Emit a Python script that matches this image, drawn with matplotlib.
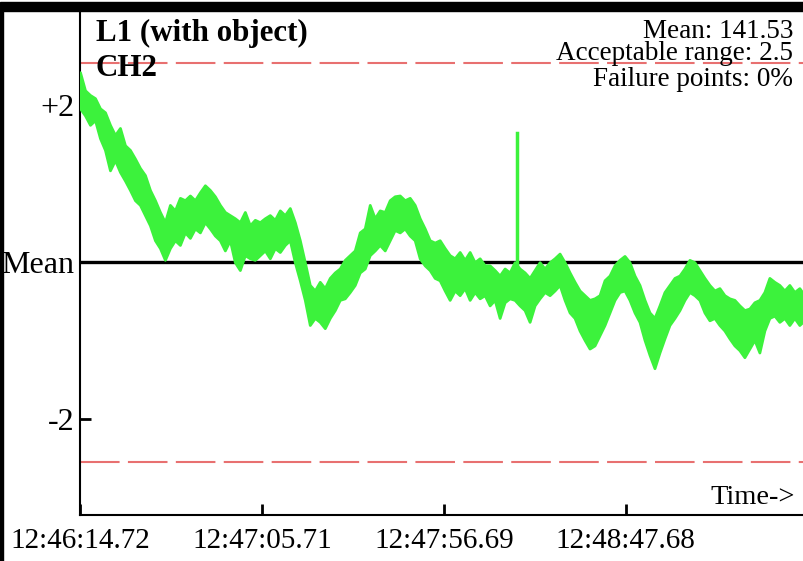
import matplotlib
matplotlib.use('Agg')
import matplotlib.pyplot as plt
from matplotlib.patches import Rectangle

# ============================================================
# DATA
# ============================================================
# seconds since 12:46:14.72, one sample every ~1.4 s
t = [0.0, 1.4, 2.8, 4.2, 5.6, 7.0, 8.4, 9.8, 11.2, 12.6,
     14.0, 15.4, 16.8, 18.2, 19.6, 21.0, 22.4, 23.8, 25.2, 26.6,
     28.0, 29.4, 30.8, 32.2, 33.6, 35.0, 36.4, 37.8, 39.2, 40.6,
     42.0, 43.4, 44.8, 46.2, 47.6, 49.0, 50.4, 51.8, 53.2, 54.6,
     56.0, 57.4, 58.8, 60.2, 61.6, 63.0, 64.4, 65.8, 67.2, 68.6,
     70.0, 71.4, 72.8, 74.2, 75.6, 77.0, 78.4, 79.8, 81.2, 82.6,
     84.0, 85.4, 86.8, 88.2, 89.6, 91.0, 92.4, 93.8, 95.2, 96.6,
     98.0, 99.4, 100.8, 102.2, 103.6, 105.0, 106.4, 107.8, 109.2, 110.6,
     112.0, 113.4, 114.8, 116.2, 117.6, 119.0, 120.4, 121.8, 123.2, 124.6,
     126.0, 127.4, 128.8, 130.2, 131.6, 133.0, 134.4, 135.8, 137.2, 138.6,
     140.0, 141.4, 142.8, 144.2, 145.6, 147.0, 148.4, 149.8, 151.2, 152.6,
     154.0, 155.4, 156.8, 158.2, 159.6, 161.0, 162.4, 163.8, 165.2, 166.6,
     168.0, 169.4, 170.8, 172.2, 173.6, 175.0, 176.4, 177.8, 179.2, 180.6,
     182.0, 183.4, 184.8, 186.2, 187.6, 189.0, 190.4, 191.8, 193.2, 194.6,
     196.0, 197.4, 198.8, 200.2, 201.6, 203.0]

# upper / lower edge of the noisy CH2 trace (deviation from mean)
upper = [2.42, 2.19, 2.13, 2.09, 1.96, 1.91, 1.75, 1.62, 1.71, 1.49,
         1.43, 1.32, 1.20, 1.11, 0.92, 0.79, 0.64, 0.51, 0.73, 0.66,
         0.82, 0.79, 0.85, 0.79, 0.89, 0.98, 0.92, 0.84, 0.73, 0.64,
         0.60, 0.56, 0.51, 0.64, 0.47, 0.54, 0.51, 0.56, 0.60, 0.54,
         0.66, 0.60, 0.69, 0.51, 0.28, 0.00, -0.29, -0.36, -0.25, -0.33,
         -0.20, -0.13, -0.08, 0.03, 0.09, 0.15, 0.38, 0.43, 0.73, 0.56,
         0.66, 0.64, 0.79, 0.84, 0.85, 0.79, 0.82, 0.73, 0.56, 0.43,
         0.28, 0.25, 0.28, 0.18, 0.09, 0.05, 0.13, 0.03, 0.13, 0.00,
         0.05, -0.04, -0.04, -0.10, -0.17, -0.08, -0.13, 0.00, -0.08, -0.13,
         -0.20, -0.10, 0.00, -0.08, 0.00, 0.05, 0.11, 0.00, -0.13, -0.25,
         -0.36, -0.42, -0.48, -0.46, -0.42, -0.23, -0.17, -0.04, 0.03, 0.08,
         0.00, -0.17, -0.29, -0.48, -0.64, -0.71, -0.55, -0.38, -0.29, -0.20,
         -0.17, -0.08, 0.03, 0.00, -0.10, -0.20, -0.29, -0.36, -0.33, -0.42,
         -0.46, -0.48, -0.55, -0.61, -0.59, -0.51, -0.48, -0.38, -0.20, -0.25,
         -0.29, -0.36, -0.29, -0.38, -0.33, -0.42]
lower = [1.96, 1.87, 1.75, 1.81, 1.58, 1.43, 1.17, 1.30, 1.15, 1.04,
         0.92, 0.79, 0.73, 0.60, 0.47, 0.28, 0.18, 0.03, 0.18, 0.28,
         0.22, 0.38, 0.31, 0.43, 0.38, 0.51, 0.43, 0.34, 0.28, 0.15,
         0.28, 0.00, -0.10, 0.09, 0.05, 0.03, 0.09, 0.15, 0.05, 0.18,
         0.13, 0.22, 0.28, 0.00, -0.23, -0.48, -0.80, -0.71, -0.76, -0.84,
         -0.71, -0.61, -0.48, -0.46, -0.38, -0.29, -0.13, -0.08, 0.09, 0.15,
         0.22, 0.15, 0.28, 0.41, 0.38, 0.43, 0.34, 0.28, 0.05, -0.04,
         -0.10, -0.20, -0.23, -0.36, -0.48, -0.36, -0.42, -0.33, -0.48, -0.38,
         -0.46, -0.42, -0.55, -0.48, -0.71, -0.51, -0.46, -0.48, -0.55, -0.61,
         -0.76, -0.55, -0.46, -0.38, -0.42, -0.36, -0.29, -0.48, -0.64, -0.71,
         -0.87, -0.99, -1.10, -1.06, -0.93, -0.80, -0.64, -0.48, -0.38, -0.36,
         -0.48, -0.64, -0.76, -0.99, -1.18, -1.35, -1.15, -0.97, -0.80, -0.71,
         -0.61, -0.48, -0.38, -0.42, -0.48, -0.64, -0.74, -0.71, -0.80, -0.87,
         -0.97, -1.06, -1.12, -1.21, -1.10, -0.99, -1.15, -0.87, -0.71, -0.68,
         -0.76, -0.71, -0.80, -0.71, -0.80, -0.74]

# single spike
spike_t = 122.4
spike_base = -0.10
spike_top = 1.64

LIMIT = 2.54          # dashed acceptable-range lines
T_END = 202.9
tick_pos = [0.0, 50.99, 101.97, 152.96]
tick_labels = ['12:46:14.72', '12:47:05.71', '12:47:56.69', '12:48:47.68']
ytick_pos = [2, 0, -2]
ytick_labels = ['+2', 'Mean', '-2']
info_lines = ['Mean: 141.53', 'Acceptable range: 2.5', 'Failure points: 0%']

GREEN = '#3cf23c'
RED = '#e87070'
SERIF = 'Liberation Serif'

# ============================================================
# FIGURE
# ============================================================
fig = plt.figure(figsize=(8.04, 5.61), dpi=100)
ax = fig.add_axes([80 / 804, 1 - 515 / 561, 724 / 804, 504 / 561])

ax.fill_between(t, lower, upper, color=GREEN, linewidth=2, edgecolor=GREEN, zorder=3)
ax.plot([spike_t, spike_t], [spike_base, spike_top], color=GREEN, lw=2.5, zorder=3)

ax.axhline(0, color='black', lw=2.4, zorder=2)
for lv in (LIMIT, -LIMIT):
    ax.axhline(lv, color=RED, lw=1.5, dashes=(19, 4), zorder=2)

ax.set_xlim(0, T_END)
ax.set_ylim(-3.22, 3.20)

for s in ('top', 'right'):
    ax.spines[s].set_visible(False)
for s in ('left', 'bottom'):
    ax.spines[s].set_linewidth(1.5)

ax.set_xticks(tick_pos)
ax.set_xticklabels(tick_labels, family=SERIF, fontsize=21)
ax.set_yticks(ytick_pos)
ax.set_yticklabels(ytick_labels, family=SERIF, fontsize=23)
ax.tick_params(axis='both', direction='in', length=8, width=2)
ax.tick_params(axis='x', pad=9.5)
ax.tick_params(axis='y', pad=4)

ax.text(16 / 724, 0.955, 'L1 (with object)', transform=ax.transAxes, family=SERIF,
        fontsize=22.3, fontweight='bold', va='center', ha='left')
ax.text(16 / 724, 0.885, 'CH2', transform=ax.transAxes, family=SERIF,
        fontsize=22.3, fontweight='bold', va='center', ha='left')

ys = [31, 54, 80]
for line, y in zip(info_lines, ys):
    fig.text(793 / 804, 1 - y / 561, line, family=SERIF, fontsize=19.5,
             ha='right', va='center')

fig.text(795 / 804, 1 - 497 / 561, 'Time->', family=SERIF, fontsize=20.5,
         ha='right', va='center')

# frame pieces around the plot
fig.patches.append(Rectangle((0, 1 - 11 / 561), 1, 9 / 561, transform=fig.transFigure,
                             color='black', zorder=10))
fig.patches.append(Rectangle((0, 0), 3 / 804, 1 - 11 / 561, transform=fig.transFigure,
                             color='black', zorder=10))

plt.savefig('out.png', dpi=100)
plt.close()
